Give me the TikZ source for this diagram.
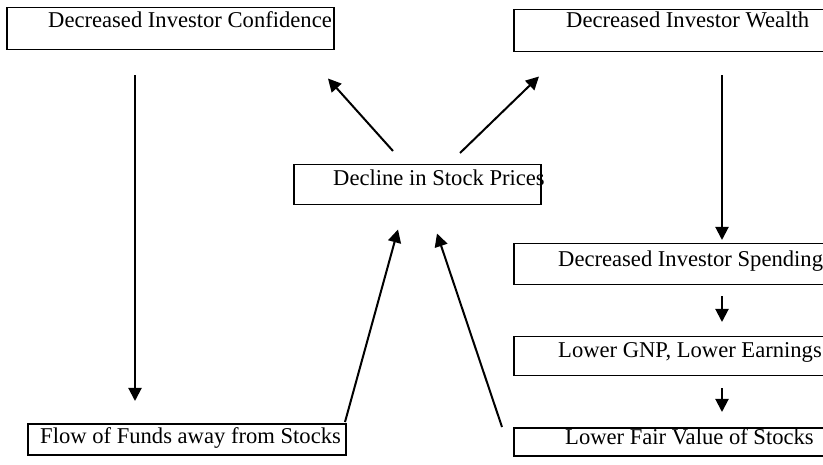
\documentclass[tikz,border=0pt]{standalone}
\usepackage{fontspec}
\setmainfont{Liberation Serif}
\usetikzlibrary{arrows.meta,calc}

\begin{document}
\begin{tikzpicture}[x=1pt,y=-1pt,
font=\fontsize{22.6}{26}\selectfont,
box/.style={
draw,
line width=1.5pt,
anchor=north west,
inner sep=0pt},
lbl/.style={anchor=base west,inner sep=0pt},
arr/.style={-{Triangle[length=13pt,width=13pt]},line width=2pt},
]
\useasboundingbox(0,0)rectangle(823,465);
%Boxes
\node[box,minimum width=327pt,minimum height=42pt](cbox)at(6,7){};
\node[box,minimum width=320pt,minimum height=42pt](wbox)at(513,9){};
\node[box,minimum width=247pt,minimum height=40pt](dbox)at(293,164){};
\node[box,minimum width=320pt,minimum height=41pt](sbox)at(513,243){};
\node[box,minimum width=320pt,minimum height=39pt](gbox)at(513,336){};
\node[box,minimum width=320pt,minimum height=28pt](vbox)at(513,427){};
\node[box,minimum width=318pt,minimum height=31pt](fbox)at(27,423){};
%Texts
\node[lbl](conf)at(48,28){Decreased Investor Confidence};
\node[lbl](wealth)at(566,28){Decreased Investor Wealth};
\node[lbl](decl)at(333,186){Decline in Stock Prices};
\node[lbl](spend)at(558,267){Decreased Investor Spending};
\node[lbl](gnp)at(558,358){Lower GNP, Lower Earnings};
\node[lbl](fair)at(565,445){Lower Fair Value of Stocks};
\node[lbl](flow)at(40,443){Flow of Funds away from Stocks};
%Arrows
\draw[arr]($(cbox.south west)+(129,25)$)--($(fbox.north west)+(108,-22)$);
\draw[arr]($(wbox.south west)+(209,23)$)--($(sbox.north west)+(209,-3)$);
\draw[arr]($(sbox.south west)+(209,11)$)--($(gbox.north west)+(209,-14)$);
\draw[arr]($(gbox.south west)+(209,12)$)--($(vbox.north west)+(209,-15)$);
\draw[arr]($(dbox.north west)+(100,-13)$)--($(cbox.south west)+(322,28)$);
\draw[arr]($(dbox.north west)+(167,-11)$)--($(wbox.south west)+(26,24)$);
\draw[arr]($(fbox.north west)+(318,-1)$)--($(dbox.south west)+(105,24)$);
\draw[arr]($(vbox.north west)+(-11,0)$)--($(dbox.south west)+(144,28)$);
\end{tikzpicture}
\end{document}
